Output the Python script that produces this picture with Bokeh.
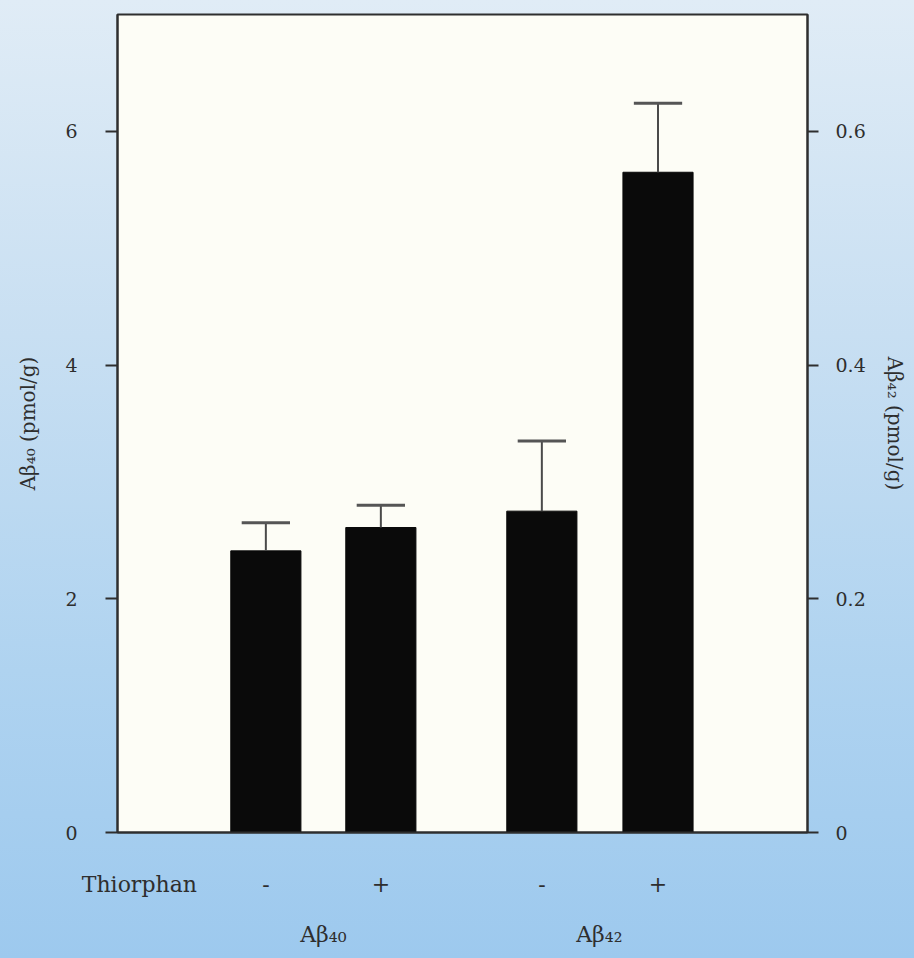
from bokeh.plotting import figure
from bokeh.models import Range1d, LinearAxis, FixedTicker, ColumnDataSource
from bokeh.embed import file_html
from bokeh.resources import INLINE

# ---- data ----
groups = ["Aβ₄₀", "Aβ₄₂"]
thiorphan = ["-", "+", "-", "+"]
ab40_mean = [2.41, 2.61]      # pmol/g, left axis
ab40_sem = [0.24, 0.19]
ab42_mean = [0.275, 0.565]    # pmol/g, right axis
ab42_sem = [0.060, 0.059]
left_ticks = [0, 2, 4, 6]
right_ticks = [0, 0.2, 0.4, 0.6]

# ---- layout (positions on the x scale) ----
bar_x = [1.29, 2.29, 3.69, 4.70]
group_x = [1.79, 4.19]
row_label_x = 0.19
bar_w = 0.61
cap_half = 0.21

FONT = "DejaVu Serif"
INK = "#2e2e2e"

p = figure(width=914, height=958, output_backend="svg", toolbar_location=None,
           x_range=Range1d(0, 6.0), y_range=Range1d(0, 7.0),
           min_border_left=117, min_border_right=107, min_border_top=14, min_border_bottom=126,
           background_fill_color="#fdfdf6", border_fill_color=None,
           outline_line_color=INK, outline_line_width=2,
           x_axis_location=None, y_axis_location=None)
p.styles = {"background": "linear-gradient(to bottom, #e0ecf6 0%, #c8dff2 35%, #afd3f0 70%, #9dc9ee 100%)"}
p.grid.visible = False
p.extra_y_ranges = {"right": Range1d(0, 0.7)}

# left axis
ly = LinearAxis(ticker=FixedTicker(ticks=left_ticks), axis_label="Aβ₄₀ (pmol/g)")
# right axis
ry = LinearAxis(y_range_name="right", ticker=FixedTicker(ticks=right_ticks),
                axis_label="Aβ₄₂ (pmol/g)", major_label_overrides={0: "0"})
for ax, out, stand, lst in ((ly, 12, 28, 22), (ry, 11, 17, 14)):
    ax.minor_tick_line_color = None
    ax.major_tick_out = out
    ax.major_tick_in = 0
    ax.major_tick_line_color = INK
    ax.major_tick_line_width = 2
    ax.axis_line_color = INK
    ax.axis_line_width = 2
    ax.major_label_standoff = stand
    ax.major_label_text_font = FONT
    ax.major_label_text_font_size = "19px"
    ax.major_label_text_color = INK
    ax.axis_label_text_font = FONT
    ax.axis_label_text_font_size = "20px"
    ax.axis_label_text_font_style = "normal"
    ax.axis_label_text_color = INK
    ax.axis_label_standoff = lst
p.add_layout(ly, "left")
p.add_layout(ry, "right")

# bottom axis: Thiorphan -/+
tick_pos = [row_label_x] + bar_x
overrides = {row_label_x: "Thiorphan"}
for xv, s in zip(bar_x, thiorphan):
    overrides[xv] = s
bx = LinearAxis(ticker=FixedTicker(ticks=tick_pos), major_label_overrides=overrides)
# group axis
gx = LinearAxis(ticker=FixedTicker(ticks=group_x),
                major_label_overrides={gv: g for gv, g in zip(group_x, groups)})
for ax, stand in ((bx, 39), (gx, 22)):
    ax.minor_tick_line_color = None
    ax.major_tick_line_color = None
    ax.major_tick_out = 0
    ax.major_tick_in = 0
    ax.axis_line_color = INK if ax is bx else None
    ax.axis_line_width = 2
    ax.major_label_standoff = stand
    ax.major_label_text_font = FONT
    ax.major_label_text_font_size = "22px"
    ax.major_label_text_color = INK
p.add_layout(bx, "below")
p.add_layout(gx, "below")

# bars
src40 = ColumnDataSource(dict(x=bar_x[:2], top=ab40_mean,
                              err=[m + s for m, s in zip(ab40_mean, ab40_sem)]))
src42 = ColumnDataSource(dict(x=bar_x[2:], top=ab42_mean,
                              err=[m + s for m, s in zip(ab42_mean, ab42_sem)]))
for src, rng in ((src40, "default"), (src42, "right")):
    p.vbar(x="x", top="top", bottom=0, width=bar_w, source=src, y_range_name=rng,
           fill_color="#0a0a0a", line_color="#0a0a0a")
    p.segment(x0="x", y0="top", x1="x", y1="err", source=src, y_range_name=rng,
              line_color="#4a4a4a", line_width=2)
    src.data["c0"] = [x - cap_half for x in src.data["x"]]
    src.data["c1"] = [x + cap_half for x in src.data["x"]]
    p.segment(x0="c0", y0="err", x1="c1", y1="err", source=src, y_range_name=rng,
              line_color="#555555", line_width=3)

open("out.html", "w").write(file_html(p, INLINE))
